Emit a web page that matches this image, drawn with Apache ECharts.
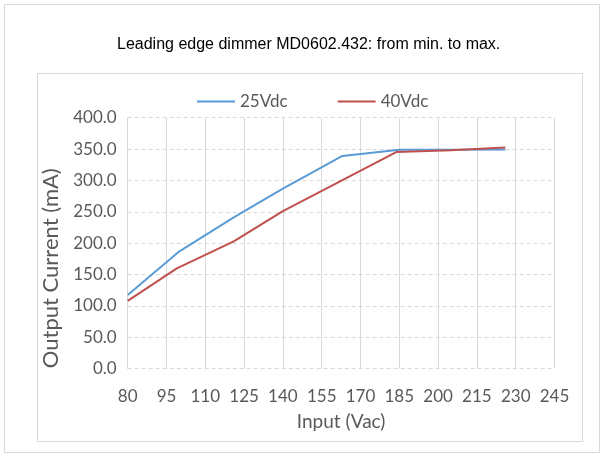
<!DOCTYPE html>
<html><head><meta charset="utf-8">
<script src="https://cdn.jsdelivr.net/npm/echarts@6/dist/echarts.min.js"></script>
<style>html,body{margin:0;padding:0;background:#fff}#c{width:604px;height:457px}</style>
</head><body><div id="c"></div>
<script>
var titleText = 'Leading edge dimmer MD0602.432: from min. to max.';
var seriesNames = ['25Vdc', '40Vdc'];
var x25 = [80, 100, 121, 140, 163, 185, 205, 226];
var y25 = [117.5, 187, 241, 287, 339, 349, 349, 349.5];
var x40 = [80, 99, 121, 140, 184, 205, 226];
var y40 = [108, 160, 203, 251, 345.5, 348, 352.5];
var xTicks = {min: 80, max: 245, interval: 15};
var yTicks = {min: 0, max: 400, interval: 50};

function pairs(xs, ys){ return xs.map(function(x,i){ return [x, ys[i]]; }); }

var chart = echarts.init(document.getElementById('c'), null, {renderer:'canvas'});
var font = 'Lato, "Open Sans", sans-serif';
chart.setOption({
  animation: false,
  backgroundColor: '#fff',
  graphic: [
    {type:'rect', shape:{x:4.5, y:4.5, width:595, height:448}, style:{fill:'none', stroke:'#d9d9d9', lineWidth:1}, silent:true},
    {type:'rect', shape:{x:37.5, y:73.5, width:545, height:368}, style:{fill:'none', stroke:'#d9d9d9', lineWidth:1}, silent:true}
  ],
  title: {
    text: titleText, left: 112, top: 32,
    textStyle: {fontFamily: 'Arial, "Liberation Sans", sans-serif', fontSize: 16, fontWeight: 'normal', color: '#000'}
  },
  legend: {
    left: 192, top: 88, itemWidth: 38, itemHeight: 2, itemGap: 50,
    icon: 'rect',
    textStyle: {fontFamily: font, fontSize: 17, color: '#595959'},
    data: seriesNames
  },
  grid: {left: 127.7, right: 49.5, top: 117.7, bottom: 88.3, containLabel: false},
  xAxis: {
    type: 'value', min: xTicks.min, max: xTicks.max, interval: xTicks.interval,
    name: 'Input (Vac)', nameLocation: 'middle', nameGap: 44,
    nameTextStyle: {fontFamily: font, fontSize: 19, color: '#595959'},
    axisLine: {show: false}, axisTick: {show: false},
    axisLabel: {fontFamily: font, fontSize: 17, color: '#595959', margin: 19},
    splitLine: {show: true, lineStyle: {color: '#d9d9d9', width: 1, type: 'solid'}}
  },
  yAxis: {
    type: 'value', min: yTicks.min, max: yTicks.max, interval: yTicks.interval,
    name: 'Output Current (mA)', nameLocation: 'middle', nameGap: 52,
    nameTextStyle: {fontFamily: font, fontSize: 22, color: '#595959', padding: [0, 50, 0, 0]},
    axisLine: {show: false}, axisTick: {show: false},
    axisLabel: {fontFamily: font, fontSize: 17, color: '#595959', margin: 11,
      formatter: function(v){ return v.toFixed(1); }},
    splitLine: {show: true, lineStyle: {color: '#d9d9d9', width: 1, type: [4, 3]}}
  },
  series: [
    {name: seriesNames[0], type: 'line', data: pairs(x25, y25), symbol: 'none', showSymbol: false,
     lineStyle: {color: '#5B9BD5', width: 2}, itemStyle: {color: '#5B9BD5'}},
    {name: seriesNames[1], type: 'line', data: pairs(x40, y40), symbol: 'none', showSymbol: false,
     lineStyle: {color: '#C0504D', width: 2}, itemStyle: {color: '#C0504D'}}
  ]
});
</script></body></html>
